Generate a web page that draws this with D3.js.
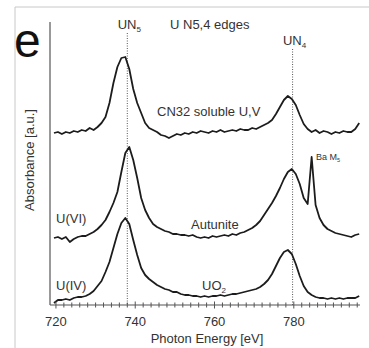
<!doctype html>
<html lang="en">
<head>
  <meta charset="utf-8">
  <title>U N5,4 edges</title>
  <script src="https://cdn.jsdelivr.net/npm/d3@7/dist/d3.min.js"></script>
  <style>
    body { margin: 0; background: #fff; }
    text { font-family: "Liberation Sans", Arial, sans-serif; fill: #333; }
  </style>
</head>
<body>
  <div id="chart"></div>
  <script>
  // photon energy grid (eV), shared by the three spectra
  var energy = [719.5, 720.5, 721.5, 722.5, 723.5, 724.5, 725.5, 726.5, 727.5, 728.5,
                729.5, 730.5, 731.5, 732.5, 733.5, 734.5, 735.5, 736.5, 737.5, 738.5,
                739.5, 740.5, 741.5, 742.5, 743.5, 744.5, 745.5, 746.5, 747.5, 748.5,
                749.5, 750.5, 751.5, 752.5, 753.5, 754.5, 755.5, 756.5, 757.5, 758.5,
                759.5, 760.5, 761.5, 762.5, 763.5, 764.5, 765.5, 766.5, 767.5, 768.5,
                769.5, 770.5, 771.5, 772.5, 773.5, 774.5, 775.5, 776.5, 777.5, 778.5,
                779.5, 780.5, 781.5, 782.5, 783.5, 784.5, 785.5, 786.5, 787.5, 788.5,
                789.5, 790.5, 791.5, 792.5, 793.5, 794.5, 795.5, 796.5];

  // absorbance (a.u.), each spectrum before its vertical offset
  var uo2 = [0.02, 0.05, 0.05, 0.06, 0.05, 0.07, 0.08, 0.08, 0.09, 0.11,
             0.14, 0.19, 0.24, 0.33, 0.43, 0.57, 0.71, 0.82, 0.87, 0.81,
             0.65, 0.50, 0.37, 0.30, 0.26, 0.23, 0.20, 0.18, 0.16, 0.15,
             0.13, 0.13, 0.11, 0.10, 0.10, 0.09, 0.09, 0.08, 0.09, 0.08,
             0.09, 0.09, 0.10, 0.09, 0.10, 0.11, 0.11, 0.12, 0.13, 0.14,
             0.15, 0.16, 0.18, 0.21, 0.25, 0.31, 0.39, 0.47, 0.53, 0.55,
             0.51, 0.41, 0.29, 0.19, 0.13, 0.10, 0.08, 0.07, 0.07, 0.06,
             0.07, 0.06, 0.07, 0.06, 0.07, 0.07, 0.07, 0.09];

  var autunite = [0.00, 0.01, -0.01, 0.01, -0.04, -0.01, 0.01, 0.02, 0.02, 0.04,
                  0.06, 0.09, 0.13, 0.18, 0.26, 0.35, 0.46, 0.66, 0.85, 0.91,
                  0.78, 0.60, 0.40, 0.28, 0.20, 0.14, 0.11, 0.09, 0.07, 0.06,
                  0.04, 0.04, 0.03, 0.03, 0.02, 0.03, 0.01, 0.00, 0.01, 0.00,
                  0.02, 0.01, 0.02, 0.03, 0.02, 0.04, 0.03, 0.05, 0.06, 0.08,
                  0.10, 0.13, 0.17, 0.23, 0.29, 0.35, 0.42, 0.50, 0.59, 0.66,
                  0.69, 0.64, 0.54, 0.40, 0.34, 0.81, 0.33, 0.20, 0.13, 0.09,
                  0.07, 0.05, 0.04, 0.03, 0.02, 0.01, 0.03, 0.04];

  var cn32 = [0.00, 0.01, -0.01, 0.01, 0.00, 0.02, 0.01, 0.03, 0.02, 0.05,
              0.03, 0.06, 0.10, 0.16, 0.30, 0.50, 0.66, 0.75, 0.76, 0.64,
              0.44, 0.30, 0.20, 0.10, 0.05, 0.03, 0.01, -0.02, -0.03, -0.05,
              -0.03, -0.01, -0.02, 0.00, -0.01, 0.01, 0.00, 0.02, 0.01, 0.00,
              0.02, 0.01, 0.03, 0.01, 0.02, 0.03, 0.02, 0.04, 0.03, 0.03,
              0.05, 0.04, 0.06, 0.08, 0.10, 0.13, 0.19, 0.26, 0.33, 0.37,
              0.34, 0.28, 0.18, 0.09, 0.04, 0.01, 0.03, 0.00, 0.02, 0.01,
              -0.01, 0.01, 0.00, 0.02, 0.01, 0.01, 0.04, 0.10];

  var offsets = [0, 0.67, 1.72];
  var xTicks = [720, 740, 760, 780];
  var edges = [738, 779.7];

  var width = 369,
      height = 348,
      plotLeft = 50,
      plotRight = 360,
      plotTop = 22,
      plotBottom = 305;

  var svg = d3.select("#chart").append("svg")
      .attr("width", width)
      .attr("height", height);

  // light frame around the panel
  svg.append("path")
      .attr("d", "M15,348V7H369")
      .attr("fill", "none")
      .attr("stroke", "#c8c8c8")
      .attr("stroke-width", 1);

  var x = d3.scaleLinear().domain([718.5, 796.7]).range([plotLeft, plotRight]);
  var y = d3.scaleLinear().domain([0, 2.83]).range([plotBottom, plotTop]);

  // dotted edge markers
  svg.selectAll("line.edge")
      .data(edges)
      .enter().append("line")
      .attr("class", "edge")
      .attr("x1", function(d){ return x(d); })
      .attr("x2", function(d){ return x(d); })
      .attr("y1", function(d, i){ return i == 0 ? 33 : 49; })
      .attr("y2", plotBottom)
      .attr("stroke", "#555")
      .attr("stroke-width", 1)
      .attr("stroke-dasharray", "1,1.5");

  // spectra
  var series = [uo2, autunite, cn32];
  series.forEach(function(vals, k){
    var line = d3.line()
        .x(function(d, i){ return x(energy[i]); })
        .y(function(d){ return y(d + offsets[k]); });
    svg.append("path")
        .datum(vals)
        .attr("d", line)
        .attr("fill", "none")
        .attr("stroke", "#1c1c1c")
        .attr("stroke-width", 1.8)
        .attr("stroke-linejoin", "round");
  });

  // y axis: plain line, no ticks
  svg.append("line")
      .attr("x1", plotLeft).attr("x2", plotLeft)
      .attr("y1", plotTop).attr("y2", plotBottom)
      .attr("stroke", "#555").attr("stroke-width", 1.2);

  // x axis with minor ticks every 2 eV crossing the line
  var xAxis = svg.append("g").attr("transform", "translate(0," + plotBottom + ")");
  xAxis.append("line")
      .attr("x1", plotLeft).attr("x2", plotRight)
      .attr("stroke", "#555").attr("stroke-width", 1.2);
  xAxis.selectAll("line.tick")
      .data(x.ticks(40).filter(function(d){ return d % 2 == 0; }))
      .enter().append("line")
      .attr("class", "tick")
      .attr("x1", function(d){ return x(d); })
      .attr("x2", function(d){ return x(d); })
      .attr("y1", function(d){ return d % 20 == 0 ? -3.5 : -2.5; })
      .attr("y2", function(d){ return d % 20 == 0 ? 3.5 : 2.5; })
      .attr("stroke", "#555").attr("stroke-width", 1);
  xAxis.selectAll("text")
      .data(xTicks)
      .enter().append("text")
      .attr("x", function(d){ return x(d); })
      .attr("y", 21)
      .attr("text-anchor", "middle")
      .attr("font-size", 13)
      .text(function(d){ return d; });

  svg.append("text")
      .attr("x", 207).attr("y", 343)
      .attr("text-anchor", "middle")
      .attr("font-size", 13)
      .text("Photon Energy [eV]");

  svg.append("text")
      .attr("transform", "translate(34,160) rotate(-90)")
      .attr("text-anchor", "middle")
      .attr("font-size", 13)
      .text("Absorbance [a.u.]");

  // panel letter
  svg.append("text")
      .attr("x", 14).attr("y", 57)
      .attr("font-family", "'Open Sans', sans-serif")
      .attr("font-size", 48)
      .style("fill", "#111")
      .text("e");

  // labels with subscripts
  function subLabel(tx, ty, main, sub, size, anchor){
    var t = svg.append("text")
        .attr("x", tx).attr("y", ty)
        .attr("font-size", size)
        .attr("text-anchor", anchor || "start");
    t.append("tspan").text(main);
    t.append("tspan").attr("font-size", size * 0.62).attr("dy", size * 0.25).text(sub);
    return t;
  }
  subLabel(x(edges[0]) + 2, 29, "UN", "5", 13, "middle");
  subLabel(x(edges[1]) + 2, 45, "UN", "4", 13, "middle");
  subLabel(316, 160, "Ba M", "5", 9);
  subLabel(202, 290, "UO", "2", 13);

  var plain = [
    {t: "U N5,4 edges", x: 170, y: 29},
    {t: "CN32 soluble U,V", x: 157, y: 116},
    {t: "U(VI)", x: 56, y: 223},
    {t: "Autunite", x: 191, y: 229},
    {t: "U(IV)", x: 56, y: 290}
  ];
  svg.selectAll("text.lab")
      .data(plain)
      .enter().append("text")
      .attr("class", "lab")
      .attr("x", function(d){ return d.x; })
      .attr("y", function(d){ return d.y; })
      .attr("font-size", 13)
      .text(function(d){ return d.t; });
  </script>
</body>
</html>
